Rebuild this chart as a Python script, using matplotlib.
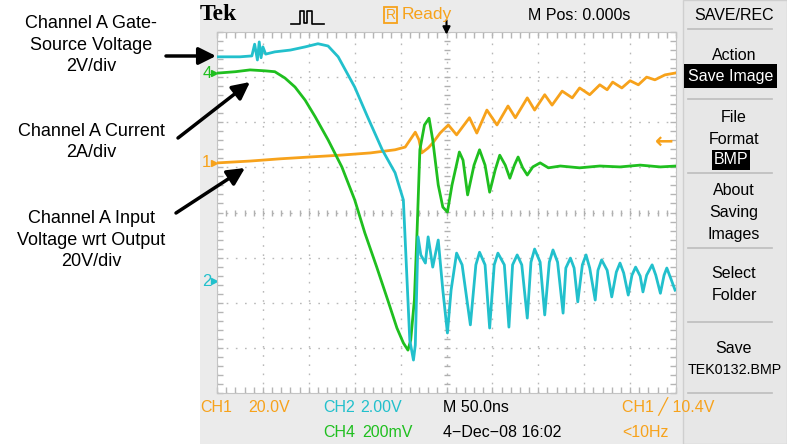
import numpy as np
import matplotlib.pyplot as plt
from matplotlib.patches import Rectangle
from matplotlib.lines import Line2D

# scope traces: time in ns (50 ns/div, trigger at 0), level in screen divisions
ch2_t = [-249, -225, -212, -209, -206, -204, -202, -200, -197, -187,
         -170, -154, -140, -129, -118, -100, -86, -70, -56, -47,
         -42, -40, -36, -34, -31, -28, -23, -20, -15, -9,
         -4, 1, 5, 11, 17, 26, 32, 36, 42, 47,
         52, 56, 63, 68, 72, 77, 82, 88, 92, 96,
         102, 107, 112, 116, 121, 127, 130, 135, 139, 143,
         148, 152, 156, 162, 165, 169, 175, 180, 185, 189,
         193, 198, 202, 206, 211, 214, 218, 224, 228, 233,
         237, 240, 245, 249]
ch2_y = [3.45, 3.45, 3.47, 3.73, 3.38, 3.78, 3.43, 3.67, 3.51, 3.56,
         3.60, 3.67, 3.74, 3.69, 3.45, 2.78, 2.12, 1.39, 0.88, 0.28,
         -1.94, -2.83, -3.27, -2.94, -0.54, -0.94, -1.12, -0.54, -1.21, -0.61,
         -1.72, -2.67, -1.72, -0.90, -1.16, -2.49, -1.16, -0.88, -1.16, -2.56,
         -1.16, -0.90, -1.16, -2.54, -1.16, -0.94, -1.16, -2.34, -1.10, -0.81,
         -1.10, -2.27, -1.10, -0.83, -1.10, -2.23, -1.23, -1.01, -1.23, -1.98,
         -1.16, -0.94, -1.23, -1.94, -1.28, -1.05, -1.28, -1.87, -1.32, -1.12,
         -1.34, -1.83, -1.39, -1.21, -1.41, -1.76, -1.39, -1.16, -1.39, -1.79,
         -1.39, -1.23, -1.50, -1.72]

ch4_t = [-249, -230, -214, -198, -187, -176, -165, -154, -143, -129,
         -114, -100, -89, -76, -64, -54, -47, -42, -39, -35,
         -32, -29, -24, -19, -15, -9, -4, 1, 6, 14,
         18, 23, 30, 36, 42, 47, 53, 58, 64, 69,
         74, 78, 83, 88, 94, 102, 111, 124, 145, 167,
         189, 211, 233, 250]
ch4_y = [3.09, 3.12, 3.16, 3.14, 3.12, 2.98, 2.78, 2.49, 2.12, 1.61,
         1.01, 0.28, -0.45, -1.21, -1.94, -2.56, -2.89, -3.05, -2.83, -1.94,
         -0.39, 1.39, 1.94, 2.09, 1.61, 0.61, 0.12, 0.01, 0.61, 1.34,
         1.16, 0.39, 1.05, 1.39, 1.05, 0.45, 0.94, 1.27, 1.05, 0.76,
         1.05, 1.23, 0.99, 0.83, 1.01, 1.10, 0.99, 1.03, 0.99, 1.03,
         1.01, 1.05, 1.01, 1.03]

ch1_t = [-249, -214, -181, -149, -116, -83, -56, -45, -34, -30,
         -27, -20, -15, -7, 2, 11, 25, 33, 44, 55,
         67, 75, 88, 96, 107, 115, 126, 137, 145, 156,
         167, 175, 181, 191, 200, 209, 218, 227, 238, 249]
ch1_y = [1.10, 1.14, 1.19, 1.23, 1.27, 1.32, 1.39, 1.45, 1.78, 1.61,
         1.32, 1.43, 1.54, 1.76, 1.94, 1.72, 2.10, 1.76, 2.27, 1.94,
         2.36, 2.10, 2.54, 2.27, 2.61, 2.38, 2.69, 2.54, 2.76, 2.61,
         2.83, 2.72, 2.89, 2.76, 2.92, 2.83, 3.00, 2.94, 3.05, 3.09]

# ground markers and trigger level (divisions)
ch1_ref, ch2_ref, ch4_ref = 1.10, -1.52, 3.09
trig_level = 1.56

orange = '#f7a21b'
cyan = '#22c0cc'
green = '#1fbf1f'
scope_font = ['Liberation Sans', 'DejaVu Sans']

W, H = 787, 444
fig = plt.figure(figsize=(W / 100, H / 100), dpi=100)
fig.patch.set_facecolor('white')


def fx(x):
    return x / W


def fy(y):
    return 1 - y / H


def ftext(x, y, s, **kw):
    kw.setdefault('family', scope_font)
    kw.setdefault('va', 'center')
    kw.setdefault('fontsize', 11.5)
    fig.text(fx(x), fy(y), s, **kw)


# scope screen backgrounds
fig.add_artist(Rectangle((fx(200), 0), 1 - fx(200), 1, transform=fig.transFigure,
                         facecolor='#ebebeb', edgecolor='none', zorder=0))
fig.add_artist(Rectangle((fx(683), 0), 1 - fx(683), 1, transform=fig.transFigure,
                         facecolor='#e7e7e7', edgecolor='#cfcfcf', lw=1, zorder=0))

ax = fig.add_axes([fx(217), fy(393), fx(676) - fx(217), (393 - 32) / H])
ax.set_facecolor('white')
ax.set_xlim(-250, 250)
ax.set_ylim(-4, 4)
ax.set_xticks(np.arange(-250, 251, 50))
ax.set_xticks(np.arange(-250, 251, 10), minor=True)
ax.set_yticks(np.arange(-4, 5, 1))
ax.set_yticks(np.arange(-4, 4.01, 0.2), minor=True)
ax.tick_params(which='both', direction='in', top=True, right=True,
               labelleft=False, labelbottom=False, color='#b5b5b5', length=4, width=1)
for s in ax.spines.values():
    s.set_color('#c4c4c4')
ax.grid(which='major', color='#b8b8b8', linestyle=(0, (1.2, 5.4)), lw=1)

# centre cross with fine ticks
mx = np.arange(-250, 251, 10)
my = np.arange(-4, 4.01, 0.2)
ax.plot(mx, np.zeros_like(mx), ls='none', marker='|', ms=5, color='#b0b0b0', mew=1)
ax.plot(np.zeros_like(my), my, ls='none', marker='_', ms=5, color='#b0b0b0', mew=1)

ax.plot(ch1_t, ch1_y, color=orange, lw=2, zorder=3)
ax.plot(ch4_t, ch4_y, color=green, lw=2, zorder=4)
ax.plot(ch2_t, ch2_y, color=cyan, lw=2, zorder=5)

# channel ground markers
ytr = ax.get_yaxis_transform()
for lab, lvl, col in [('1', ch1_ref, orange), ('2', ch2_ref, cyan), ('4', ch4_ref, green)]:
    ax.text(-0.012, lvl, lab, transform=ytr, color=col, ha='right', va='center',
            fontsize=12, family=scope_font, clip_on=False)
    ax.plot([-0.006], [lvl], transform=ytr, marker='>', ms=4, color=col, clip_on=False)

# trigger level and trigger position
ax.text(0.995, trig_level, '\u2190', transform=ytr, color=orange, ha='right', va='center',
        fontsize=16, fontweight='bold', family='DejaVu Sans')
ax.annotate('', xy=(0, 0.985), xycoords=ax.get_xaxis_transform(),
            xytext=(0, 1.04), textcoords=ax.get_xaxis_transform(),
            arrowprops=dict(arrowstyle='-|>', color='black', lw=1.5, mutation_scale=11))

# top status bar
ftext(200, 15, 'Tek', family='Liberation Serif', fontweight='bold', fontsize=17)
fig.add_artist(Line2D([fx(v) for v in [291, 300, 300, 304, 304, 307, 307, 312, 312, 324]],
                      [fy(v) for v in [24, 24, 11, 11, 23, 23, 11, 11, 24, 24]],
                      transform=fig.transFigure, color='black', lw=1.2))
fig.add_artist(Rectangle((fx(384), fy(23)), fx(397) - fx(384), (23 - 7) / H,
                         transform=fig.transFigure, facecolor='none', edgecolor=orange, lw=1.3))
ftext(390.5, 15, 'R', color=orange, fontsize=10, ha='center')
ftext(402, 15, 'Ready', color=orange, fontsize=12.5)
ftext(528, 15, 'M Pos: 0.000s')

# bottom status bar
ftext(200, 407, 'CH1', color=orange)
ftext(248, 407, '20.0V', color=orange)
ftext(323, 407, 'CH2', color=cyan)
ftext(360, 407, '2.00V', color=cyan)
ftext(443, 407, 'M 50.0ns')
ftext(622, 407, 'CH1 \u2571 10.4V', color=orange)
ftext(323, 432, 'CH4', color=green)
ftext(362, 432, '200mV', color=green)
ftext(443, 432, '4\u2212Dec\u221208 16:02')
ftext(622, 432, '<10Hz', color=orange)

# side menu
menu_x = 734
ftext(menu_x, 15, 'SAVE/REC', ha='center')
for y in [29, 99, 173, 248, 322, 393]:
    fig.add_artist(Line2D([fx(688), fx(772)], [fy(y), fy(y)], transform=fig.transFigure,
                          color='#bdbdbd', lw=1.2))
ftext(menu_x, 55, 'Action', ha='center')
fig.add_artist(Rectangle((fx(684), fy(88)), fx(777) - fx(684), (88 - 64) / H,
                         transform=fig.transFigure, facecolor='black', edgecolor='none'))
ftext(730.5, 76, 'Save Image', ha='center', color='white')
ftext(menu_x, 118, 'File', ha='center')
ftext(menu_x, 139, 'Format', ha='center')
fig.add_artist(Rectangle((fx(712), fy(170)), fx(750) - fx(712), (170 - 150) / H,
                         transform=fig.transFigure, facecolor='black', edgecolor='none'))
ftext(731, 160, 'BMP', ha='center', color='white')
ftext(menu_x, 190, 'About', ha='center')
ftext(menu_x, 212, 'Saving', ha='center')
ftext(menu_x, 234, 'Images', ha='center')
ftext(menu_x, 273, 'Select', ha='center')
ftext(menu_x, 295, 'Folder', ha='center')
ftext(menu_x, 348, 'Save', ha='center')
ftext(735, 370, 'TEK0132.BMP', ha='center', fontsize=10.3)

# annotations on the left
note_font = ['Liberation Sans', 'DejaVu Sans']
ftext(91, 45, 'Channel A Gate-\nSource Voltage\n2V/div', family=note_font, fontsize=13,
      ha='center', linespacing=1.35)
ftext(91, 142, 'Channel A Current\n2A/div', family=note_font, fontsize=13,
      ha='center', linespacing=1.35)
ftext(91, 240, 'Channel A Input\nVoltage wrt Output\n20V/div', family=note_font, fontsize=13,
      ha='center', linespacing=1.35)

arrow_kw = dict(arrowstyle='-|>', color='black', lw=2.5, mutation_scale=26, shrinkA=0, shrinkB=0)
for tail, tip in [((166, 56), (216, 56)), ((178, 138), (250, 82)), ((176, 213), (245, 168))]:
    fig.add_artist(plt.Annotation('', xy=(fx(tip[0]), fy(tip[1])), xycoords='figure fraction',
                                  xytext=(fx(tail[0]), fy(tail[1])), textcoords='figure fraction',
                                  arrowprops=arrow_kw))

fig.savefig('out.png', dpi=100)
